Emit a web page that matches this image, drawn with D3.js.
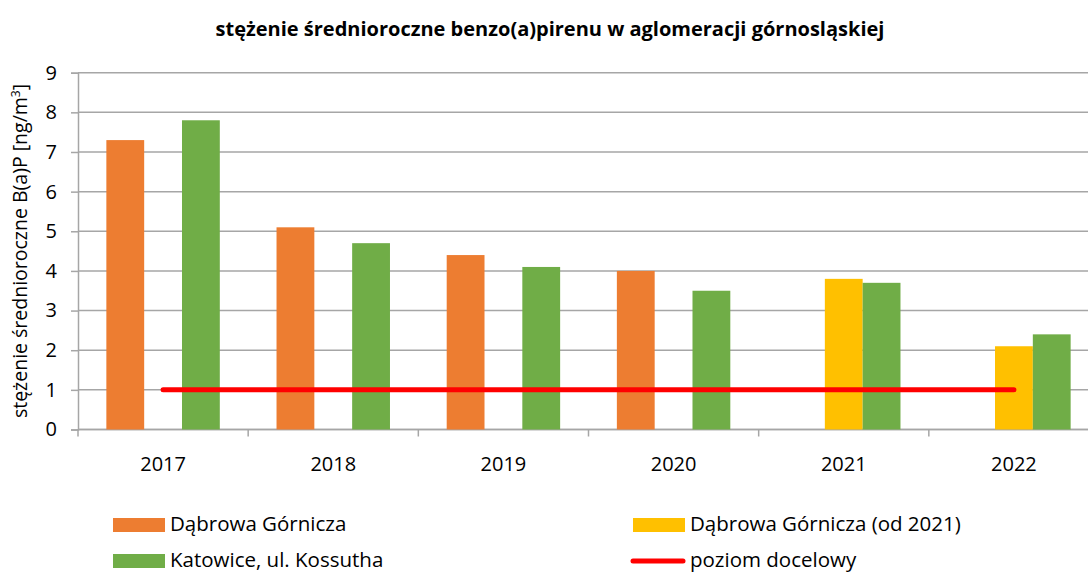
<!DOCTYPE html>
<html lang="pl">
<head>
<meta charset="UTF-8">
<script src="https://d3js.org/d3.v7.min.js"></script>
<style>
body {margin: 0; background: white;}
svg {display: block; font-family: "Open Sans", sans-serif;}
</style>
</head>
<body>
<svg width="1088" height="572"></svg>
<script>
// data
const years = ["2017", "2018", "2019", "2020", "2021", "2022"];
const seriesNames = ["Dąbrowa Górnicza", "Dąbrowa Górnicza (od 2021)", "Katowice, ul. Kossutha"];
const dabrowa = [7.3, 5.1, 4.4, 4.0, null, null];
const dabrowa2021 = [null, null, null, null, 3.8, 2.1];
const katowice = [7.8, 4.7, 4.1, 3.5, 3.7, 2.4];
const target = [1, 1, 1, 1, 1, 1];
const yTicks = [0, 1, 2, 3, 4, 5, 6, 7, 8, 9];
const colors = ["#ED7D31", "#FFC000", "#70AD47"];

const svg = d3.select("svg");

const x0 = d3.scaleBand().domain(years).range([78, 1099]).padding(0);
const x1 = d3.scaleBand().domain(seriesNames).range([0, x0.bandwidth()]).paddingInner(0).paddingOuter(0.75);
const y = d3.scaleLinear().domain([0, 9]).range([429.5, 72.7]);

// gridlines
svg.append("g")
  .selectAll("line")
  .data(yTicks)
  .enter()
  .append("line")
  .attr("x1", 78).attr("x2", 1099)
  .attr("y1", d => y(d)).attr("y2", d => y(d))
  .attr("stroke", "#a6a6a6").attr("stroke-width", 1.5);

// y axis
const yAxis = svg.append("g")
  .attr("transform", "translate(78,0)")
  .call(d3.axisLeft(y).tickValues(yTicks).tickSize(7).tickPadding(14));
yAxis.select(".domain").attr("stroke", "#a6a6a6").attr("stroke-width", 1.5);
yAxis.selectAll(".tick line").attr("stroke", "#a6a6a6").attr("stroke-width", 1.5);
yAxis.selectAll("text").attr("font-size", 20).attr("fill", "#000").attr("font-family", "'Open Sans', sans-serif");

// x axis: ticks at category boundaries
const xAxis = svg.append("g").attr("transform", "translate(0,429.5)");
xAxis.append("line").attr("x1", 78).attr("x2", 1099).attr("stroke", "#a6a6a6").attr("stroke-width", 1.5);
xAxis.selectAll("line.tk")
  .data(years.concat(["end"]))
  .enter()
  .append("line")
  .attr("class", "tk")
  .attr("x1", (d, i) => x0.range()[0] + i * x0.step())
  .attr("x2", (d, i) => x0.range()[0] + i * x0.step())
  .attr("y1", 0).attr("y2", 7)
  .attr("stroke", "#a6a6a6").attr("stroke-width", 1.5);
xAxis.selectAll("text")
  .data(years)
  .enter()
  .append("text")
  .attr("x", d => x0(d) + x0.bandwidth() / 2)
  .attr("y", 41)
  .attr("text-anchor", "middle")
  .attr("font-size", 20)
  .text(d => d);

// bars
const seriesValues = [dabrowa, dabrowa2021, katowice];
seriesValues.forEach(function(vals, s) {
  svg.append("g")
    .selectAll("rect")
    .data(years.map((yr, i) => ({year: yr, v: vals[i]})).filter(d => d.v != null))
    .enter()
    .append("rect")
    .attr("x", d => x0(d.year) + x1(seriesNames[s]))
    .attr("width", x1.bandwidth())
    .attr("y", d => y(d.v))
    .attr("height", d => y(0) - y(d.v))
    .attr("fill", colors[s]);
});

// target line
svg.append("path")
  .datum(target)
  .attr("d", d3.line().x((d, i) => x0(years[i]) + x0.bandwidth() / 2).y(d => y(d)))
  .attr("fill", "none")
  .attr("stroke", "#FF0000")
  .attr("stroke-width", 5)
  .attr("stroke-linecap", "round");

// title
svg.append("text")
  .attr("x", 550).attr("y", 36)
  .attr("text-anchor", "middle")
  .attr("font-size", 20)
  .attr("font-weight", "bold")
  .text("stężenie średnioroczne benzo(a)pirenu w aglomeracji górnosląskiej");

// y title
svg.append("text")
  .attr("transform", "translate(27,251) rotate(-90)")
  .attr("text-anchor", "middle")
  .attr("font-size", 19.5)
  .html("stężenie średnioroczne B(a)P [ng/m<tspan dy='-7' font-size='12'>3</tspan><tspan dy='7'>]</tspan>");

// legend
const legend = [
  {name: seriesNames[0], color: colors[0], x: 113, y: 525, type: "rect"},
  {name: seriesNames[1], color: colors[1], x: 633, y: 525, type: "rect"},
  {name: seriesNames[2], color: colors[2], x: 113, y: 561, type: "rect"},
  {name: "poziom docelowy", color: "#FF0000", x: 633, y: 561, type: "line"}
];
const lg = svg.append("g").selectAll("g").data(legend).enter().append("g");
lg.filter(d => d.type == "rect").append("rect")
  .attr("x", d => d.x).attr("y", d => d.y - 7)
  .attr("width", 52).attr("height", 14)
  .attr("fill", d => d.color);
lg.filter(d => d.type == "line").append("line")
  .attr("x1", d => d.x).attr("x2", d => d.x + 50)
  .attr("y1", d => d.y).attr("y2", d => d.y)
  .attr("stroke", d => d.color).attr("stroke-width", 5).attr("stroke-linecap", "round");
lg.append("text")
  .attr("x", d => d.x + 57).attr("y", d => d.y + 6)
  .attr("font-size", 20.5)
  .text(d => d.name);
</script>
</body>
</html>
